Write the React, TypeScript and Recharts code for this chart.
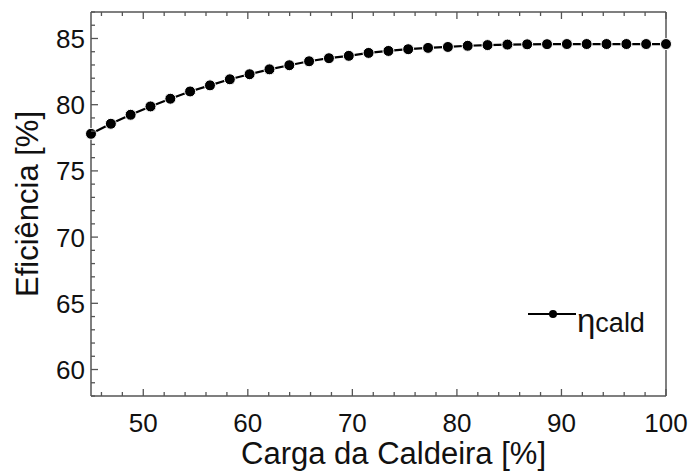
import { LineChart, Line, XAxis, YAxis, Legend } from 'recharts';

// Carga da caldeira [%] (30 pontos entre 45 e 100)
const carga = [
  45, 46.9, 48.79, 50.69, 52.59, 54.48, 56.38, 58.28, 60.17, 62.07,
  63.97, 65.86, 67.76, 69.66, 71.55, 73.45, 75.34, 77.24, 79.14, 81.03,
  82.93, 84.83, 86.72, 88.62, 90.52, 92.41, 94.31, 96.21, 98.1, 100,
];

// Eficiência da caldeira [%]
const etaCald = [
  77.8, 78.56, 79.24, 79.87, 80.45, 81.0, 81.46, 81.92, 82.3, 82.67,
  82.98, 83.28, 83.51, 83.69, 83.91, 84.06, 84.19, 84.29, 84.36, 84.45,
  84.5, 84.54, 84.56, 84.57, 84.58, 84.58, 84.58, 84.58, 84.58, 84.58,
];

const xTicks = [
  46, 48, 50, 52, 54, 56, 58, 60, 62, 64, 66, 68, 70, 72, 74, 76, 78, 80,
  82, 84, 86, 88, 90, 92, 94, 96, 98, 100,
];
const xMajor = [50, 60, 70, 80, 90, 100];

const yTicks = [
  58, 59, 60, 61, 62, 63, 64, 65, 66, 67, 68, 69, 70, 71, 72, 73, 74, 75,
  76, 77, 78, 79, 80, 81, 82, 83, 84, 85, 86, 87,
];
const yMajor = [60, 65, 70, 75, 80, 85];

const data = carga.map((c, i) => ({ carga: c, eta: etaCald[i] }));

const FONT = '"Liberation Sans", Arial, Helvetica, sans-serif';
const AXIS = '#555';
const TEXT = '#111';

function BottomTick(props: any) {
  const { x, y, payload } = props;
  const major = xMajor.includes(payload.value);
  return (
    <g>
      <line x1={x} y1={y} x2={x} y2={y - (major ? 7 : 4)} stroke={AXIS} strokeWidth={1.3} />
      {major && (
        <text x={x} y={y + 36} textAnchor="middle" fontSize={26} fontFamily={FONT} fill={TEXT}>
          {payload.value}
        </text>
      )}
    </g>
  );
}

function TopTick(props: any) {
  const { x, y, payload } = props;
  const major = xMajor.includes(payload.value);
  return <line x1={x} y1={y} x2={x} y2={y + (major ? 7 : 4)} stroke={AXIS} strokeWidth={1.3} />;
}

function LeftTick(props: any) {
  const { x, y, payload } = props;
  const major = yMajor.includes(payload.value);
  return (
    <g>
      <line x1={x} y1={y} x2={x + (major ? 7 : 4)} y2={y} stroke={AXIS} strokeWidth={1.3} />
      {major && (
        <text x={x - 6} y={y + 9.5} textAnchor="end" fontSize={26} fontFamily={FONT} fill={TEXT}>
          {payload.value}
        </text>
      )}
    </g>
  );
}

function RightTick(props: any) {
  const { x, y, payload } = props;
  const major = yMajor.includes(payload.value);
  return <line x1={x} y1={y} x2={x - (major ? 7 : 4)} y2={y} stroke={AXIS} strokeWidth={1.3} />;
}

function LegendBox() {
  return (
    <svg width={150} height={50}>
      <line x1={8} y1={14} x2={56} y2={14} stroke="#000" strokeWidth={2} />
      <circle cx={33} cy={14} r={4} fill="#000" />
      <text x={57} y={32} fontFamily={FONT} fill={TEXT}>
        <tspan fontSize={33}>η</tspan>
        <tspan fontSize={27}>cald</tspan>
      </text>
    </svg>
  );
}

export default function App() {
  return (
    <div style={{ position: 'absolute', left: 0, top: 0, width: 691, height: 473, background: '#fff' }}>
      <LineChart width={691} height={473} data={data} margin={{ top: 12, right: 25, bottom: 0, left: 0 }}>
        <XAxis
          dataKey="carga"
          type="number"
          domain={[45, 100]}
          ticks={xTicks}
          interval={0}
          height={77}
          tickSize={0}
          tickMargin={0}
          tickLine={false}
          axisLine={{ stroke: AXIS, strokeWidth: 1.5 }}
          tick={(p: any) => <BottomTick {...p} />}
          label={(p: any) => {
            const vb = p.viewBox;
            return (
              <text
                x={vb.x + vb.width / 2 + 15}
                y={vb.y + 68}
                textAnchor="middle"
                fontSize={31}
                fontFamily={FONT}
                fill={TEXT}
              >
                Carga da Caldeira [%]
              </text>
            );
          }}
        />
        <XAxis
          xAxisId="top"
          dataKey="carga"
          type="number"
          orientation="top"
          mirror
          domain={[45, 100]}
          ticks={xTicks}
          interval={0}
          height={1}
          tickSize={0}
          tickMargin={0}
          tickLine={false}
          axisLine={{ stroke: AXIS, strokeWidth: 1.5 }}
          tick={(p: any) => <TopTick {...p} />}
        />
        <YAxis
          type="number"
          domain={[58, 87]}
          ticks={yTicks}
          interval={0}
          width={91}
          tickSize={0}
          tickMargin={0}
          tickLine={false}
          axisLine={{ stroke: AXIS, strokeWidth: 1.5 }}
          tick={(p: any) => <LeftTick {...p} />}
          label={(p: any) => {
            const vb = p.viewBox;
            const cy = vb.y + vb.height / 2;
            return (
              <text
                x={38}
                y={cy}
                transform={`rotate(-90 38 ${cy})`}
                textAnchor="middle"
                fontSize={31}
                fontFamily={FONT}
                fill={TEXT}
              >
                Eficiência [%]
              </text>
            );
          }}
        />
        <YAxis
          yAxisId="right"
          type="number"
          orientation="right"
          mirror
          domain={[58, 87]}
          ticks={yTicks}
          interval={0}
          width={1}
          tickSize={0}
          tickMargin={0}
          tickLine={false}
          axisLine={{ stroke: AXIS, strokeWidth: 1.5 }}
          tick={(p: any) => <RightTick {...p} />}
        />
        <Legend
          layout="horizontal"
          verticalAlign="middle"
          align="center"
          content={() => <LegendBox />}
          wrapperStyle={{ left: 520, top: 300, width: 150, height: 50 }}
        />
        <Line
          type="linear"
          dataKey="eta"
          name="ηcald"
          stroke="#000"
          strokeWidth={2.2}
          dot={{ r: 5.5, fill: '#000', stroke: '#fff', strokeWidth: 1 }}
          isAnimationActive={false}
        />
      </LineChart>
    </div>
  );
}
